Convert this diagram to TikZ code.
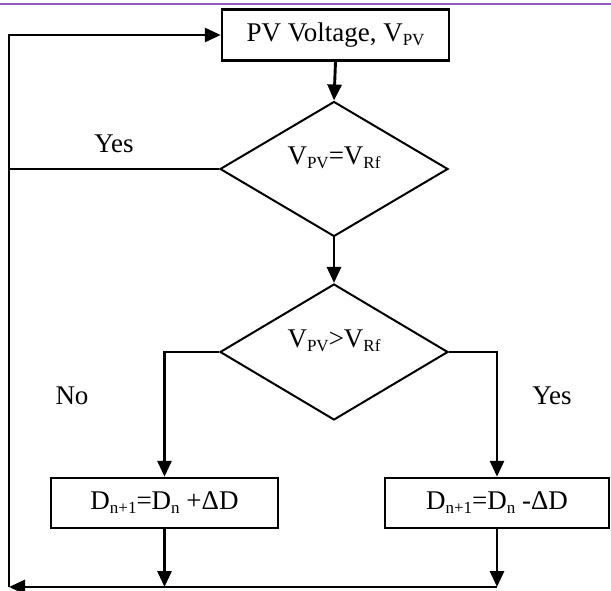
\documentclass[tikz,border=0pt]{standalone}
\usepackage{fontspec}
\setmainfont{Liberation Serif}
\usepackage{xcolor}
\usetikzlibrary{shapes.geometric,arrows.meta,positioning,calc}
\definecolor{hdrline}{RGB}{150,90,190}
\newcommand{\sbs}[1]{\raisebox{-4pt}{\fontsize{17}{17}\selectfont #1}}

\begin{document}
\begin{tikzpicture}[x=1pt, y=1pt,
    box/.style={rectangle, draw, line width=2.5pt, inner sep=0pt, font=\fontsize{27}{32}\selectfont},
    dia/.style={diamond, draw, line width=2pt, aspect=1.7, minimum width=228pt, minimum height=135pt, inner sep=0pt},
    dtxt/.style={font=\fontsize{27}{32}\selectfont, inner sep=0pt, yshift=11pt},
    lbl/.style={font=\fontsize{27}{32}\selectfont, inner sep=0pt},
    arr/.style={-{Triangle[length=16pt, width=14pt]}, line width=2.9pt},
    ln/.style={line width=2.9pt}
]
\useasboundingbox (0,0) rectangle (611,590);
\draw[line width=2pt, hdrline] (0,585.5) -- (611,585.5);
% blocks
\node[box, minimum width=227pt, minimum height=51pt] (pv) at (335.5,555) {PV Voltage, V\sbs{PV}};
\node[dia, label={[dtxt]center:{V\sbs{PV}=V\sbs{Rf}}}] (eq) at (334,421) {};
\node[dia, minimum height=136pt, label={[dtxt]center:{V\sbs{PV}>V\sbs{Rf}}}] (gt) at (334,238) {};
\node[box, minimum width=227pt, minimum height=50pt] (inc) at (164.5,87) {D\sbs{n+1}=D\sbs{n} +ΔD};
\node[box, minimum width=224pt, minimum height=50pt] (dec) at (497,87) {D\sbs{n+1}=D\sbs{n} -ΔD};
\node[lbl] (no) at (72,194) {No};
\node[lbl] (yes) at (552,194) {Yes};
% connectors
\coordinate (bl) at (9,3);
\coordinate (yl) at (eq.west -| bl);
\draw[arr] (pv.south) -- (eq.north);
\draw[ln] (eq.west) -- node[lbl, above=15pt] {Yes} (yl);
\draw[arr] (eq.south) -- (gt.north);
\draw[arr] (gt.west) -| (inc.north);
\draw[arr] (gt.east) -| (dec.north);
\draw[arr] (inc.south) -- (inc.south |- bl);
\draw[arr] (dec.south) -- (dec.south |- bl);
\draw[arr] (dec.south |- bl) -- (bl);
\draw[arr] (bl) |- (pv.west);
\end{tikzpicture}
\end{document}
